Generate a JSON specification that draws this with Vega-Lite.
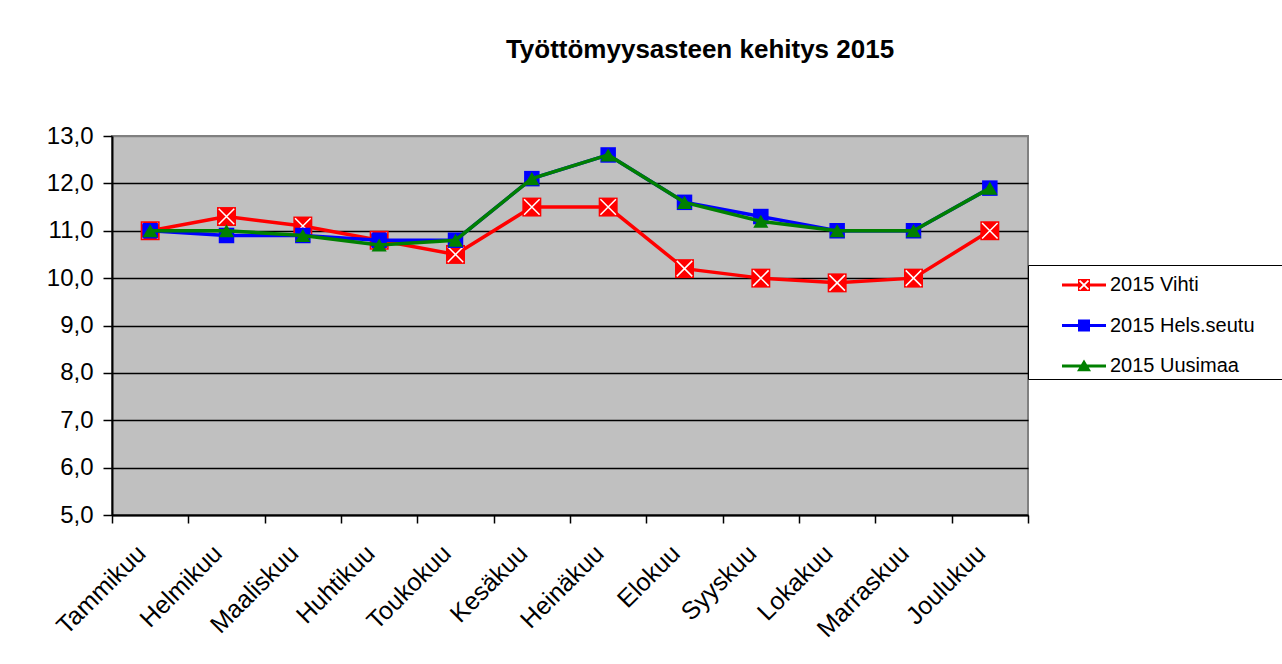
{
  "$schema": "https://vega.github.io/schema/vega-lite/v6.json",
  "width": 916,
  "height": 379,
  "autosize": {"type": "none"},
  "padding": {"left": 112, "top": 136, "right": 254, "bottom": 149},
  "background": "white",
  "title": {
    "text": "Työttömyysasteen kehitys 2015",
    "font": "Liberation Sans",
    "fontSize": 26,
    "fontWeight": "bold",
    "color": "black",
    "anchor": "middle",
    "frame": "group",
    "baseline": "alphabetic",
    "offset": 40,
    "dx": 130
  },
  "data": {
    "values": [
      {"month": "Tammikuu", "series": "2015 Vihti", "value": 11.0},
      {"month": "Helmikuu", "series": "2015 Vihti", "value": 11.3},
      {"month": "Maaliskuu", "series": "2015 Vihti", "value": 11.1},
      {"month": "Huhtikuu", "series": "2015 Vihti", "value": 10.8},
      {"month": "Toukokuu", "series": "2015 Vihti", "value": 10.5},
      {"month": "Kesäkuu", "series": "2015 Vihti", "value": 11.5},
      {"month": "Heinäkuu", "series": "2015 Vihti", "value": 11.5},
      {"month": "Elokuu", "series": "2015 Vihti", "value": 10.2},
      {"month": "Syyskuu", "series": "2015 Vihti", "value": 10.0},
      {"month": "Lokakuu", "series": "2015 Vihti", "value": 9.9},
      {"month": "Marraskuu", "series": "2015 Vihti", "value": 10.0},
      {"month": "Joulukuu", "series": "2015 Vihti", "value": 11.0},
      {"month": "Tammikuu", "series": "2015 Hels.seutu", "value": 11.0},
      {"month": "Helmikuu", "series": "2015 Hels.seutu", "value": 10.9},
      {"month": "Maaliskuu", "series": "2015 Hels.seutu", "value": 10.9},
      {"month": "Huhtikuu", "series": "2015 Hels.seutu", "value": 10.8},
      {"month": "Toukokuu", "series": "2015 Hels.seutu", "value": 10.8},
      {"month": "Kesäkuu", "series": "2015 Hels.seutu", "value": 12.1},
      {"month": "Heinäkuu", "series": "2015 Hels.seutu", "value": 12.6},
      {"month": "Elokuu", "series": "2015 Hels.seutu", "value": 11.6},
      {"month": "Syyskuu", "series": "2015 Hels.seutu", "value": 11.3},
      {"month": "Lokakuu", "series": "2015 Hels.seutu", "value": 11.0},
      {"month": "Marraskuu", "series": "2015 Hels.seutu", "value": 11.0},
      {"month": "Joulukuu", "series": "2015 Hels.seutu", "value": 11.9},
      {"month": "Tammikuu", "series": "2015 Uusimaa", "value": 11.0},
      {"month": "Helmikuu", "series": "2015 Uusimaa", "value": 11.0},
      {"month": "Maaliskuu", "series": "2015 Uusimaa", "value": 10.9},
      {"month": "Huhtikuu", "series": "2015 Uusimaa", "value": 10.7},
      {"month": "Toukokuu", "series": "2015 Uusimaa", "value": 10.8},
      {"month": "Kesäkuu", "series": "2015 Uusimaa", "value": 12.1},
      {"month": "Heinäkuu", "series": "2015 Uusimaa", "value": 12.6},
      {"month": "Elokuu", "series": "2015 Uusimaa", "value": 11.6},
      {"month": "Syyskuu", "series": "2015 Uusimaa", "value": 11.2},
      {"month": "Lokakuu", "series": "2015 Uusimaa", "value": 11.0},
      {"month": "Marraskuu", "series": "2015 Uusimaa", "value": 11.0},
      {"month": "Joulukuu", "series": "2015 Uusimaa", "value": 11.9}
    ]
  },
  "encoding": {
    "x": {
      "field": "month",
      "type": "nominal",
      "sort": ["Tammikuu", "Helmikuu", "Maaliskuu", "Huhtikuu", "Toukokuu", "Kesäkuu", "Heinäkuu", "Elokuu", "Syyskuu", "Lokakuu", "Marraskuu", "Joulukuu"],
      "scale": {"type": "band", "paddingInner": 0, "paddingOuter": 0},
      "axis": {
        "title": null,
        "labelAngle": -45,
        "labelAlign": "right",
        "labelBaseline": "middle",
        "labelOffset": -9,
        "tickBand": "extent",
        "labelFontSize": 25,
        "labelFont": "Liberation Sans",
        "labelColor": "black",
        "labelPadding": 26,
        "tickSize": 8,
        "tickColor": "black",
        "tickWidth": 1.5,
        "domainColor": "black",
        "domainWidth": 2,
        "grid": false
      }
    },
    "y": {
      "field": "value",
      "type": "quantitative",
      "scale": {"domain": [5, 13], "nice": false, "zero": false},
      "axis": {
        "title": null,
        "values": [5, 6, 7, 8, 9, 10, 11, 12, 13],
        "labelExpr": "replace(format(datum.value, '.1f'), '.', ',')",
        "labelFontSize": 24,
        "labelFont": "Liberation Sans",
        "labelColor": "black",
        "labelPadding": 10,
        "tickSize": 9,
        "tickColor": "black",
        "tickWidth": 1.5,
        "domainColor": "black",
        "domainWidth": 2,
        "grid": true,
        "gridColor": {"condition": {"test": "datum.value === 13", "value": "#808080"}, "value": "#000000"},
        "gridWidth": 1.3
      }
    },
    "color": {
      "field": "series",
      "type": "nominal",
      "scale": {
        "domain": ["2015 Vihti", "2015 Hels.seutu", "2015 Uusimaa"],
        "range": ["#FF0000", "#0000FF", "#008000"]
      },
      "legend": {
        "title": null,
        "orient": "none",
        "legendX": 916,
        "legendY": 129,
        "symbolSize": 1225,
        "symbolOffset": 36,
        "padding": 2.5,
        "rowPadding": 12.5,
        "labelOffset": 8.5,
        "labelFontSize": 20,
        "labelFont": "Liberation Sans",
        "labelColor": "black",
        "labelLimit": 400,
        "strokeColor": "black",
        "fillColor": "white",
        "labelExpr": "datum.label + '\u00a0\u00a0\u00a0\u00a0\u00a0\u00a0\u00a0\u00a0\u00a0\u00a0\u2800'",
        "encode": {
          "symbols": {
            "update": {
              "shape": {"signal": "datum.value === '2015 Vihti' ? 'M-1.257,-0.086H-0.343V0.086H-1.257Z M0.343,-0.086H1.257V0.086H0.343Z M-0.343,-0.343H0.343V0.343H-0.343Z M-0.29,-0.22L-0.07,0L-0.29,0.22L-0.22,0.29L0,0.07L0.22,0.29L0.29,0.22L0.07,0L0.29,-0.22L0.22,-0.29L0,-0.07L-0.22,-0.29Z' : datum.value === '2015 Hels.seutu' ? 'M-1.257,-0.086H1.257V0.086H-1.257Z M-0.343,-0.343H0.343V0.343H-0.343Z' : 'M-1.257,-0.086H1.257V0.086H-1.257Z M0,-0.37L0.4,0.3H-0.4Z'"},
              "fill": {"signal": "scale('color', datum.value)"},
              "stroke": {"value": "transparent"},
              "strokeWidth": {"value": 0},
              "opacity": {"value": 1}
            }
          }
        }
      }
    }
  },
  "layer": [
    {
      "transform": [{"filter": "datum.series === '2015 Vihti'"}],
      "mark": {"type": "line", "strokeWidth": 3.5}
    },
    {
      "transform": [{"filter": "datum.series === '2015 Vihti'"}],
      "mark": {"type": "point", "shape": "square", "size": 360, "filled": true, "opacity": 1, "strokeWidth": 0}
    },
    {
      "transform": [{"filter": "datum.series === '2015 Vihti'"}],
      "mark": {"type": "point", "shape": "M-1,-1L1,1M1,-1L-1,1", "size": 240, "filled": false, "opacity": 1, "strokeWidth": 1.5},
      "encoding": {"color": {"value": "white"}}
    },
    {
      "transform": [{"filter": "datum.series === '2015 Hels.seutu'"}],
      "mark": {"type": "line", "strokeWidth": 3.5}
    },
    {
      "transform": [{"filter": "datum.series === '2015 Hels.seutu'"}],
      "mark": {"type": "point", "shape": "square", "size": 240, "filled": true, "opacity": 1, "strokeWidth": 0}
    },
    {
      "transform": [{"filter": "datum.series === '2015 Uusimaa'"}],
      "mark": {"type": "line", "strokeWidth": 3.5}
    },
    {
      "transform": [{"filter": "datum.series === '2015 Uusimaa'"}],
      "mark": {"type": "point", "shape": "triangle-up", "size": 230, "filled": true, "opacity": 1, "strokeWidth": 0}
    }
  ],
  "config": {
    "view": {"fill": "#C0C0C0", "stroke": "#808080", "strokeWidth": 2}
  }
}
